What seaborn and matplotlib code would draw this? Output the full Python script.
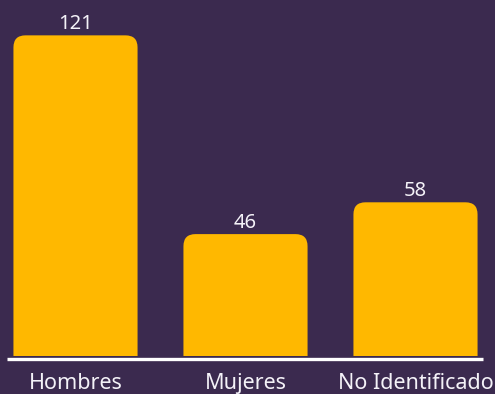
import matplotlib
matplotlib.use("Agg")
import matplotlib.pyplot as plt
import seaborn as sns
import pandas as pd
from matplotlib.patches import FancyBboxPatch

categories = ["Hombres", "Mujeres", "No Identificado"]
values = [121, 46, 58]

BG = "#3b2a4f"
BAR = "#ffb800"
TXT = "#f4f2f8"

sns.set_theme(style="white")
plt.rcParams["font.family"] = ["Noto Sans", "DejaVu Sans"]

W, H = 495, 394
fig = plt.figure(figsize=(W / 100, H / 100), dpi=100, facecolor=BG)

# axes: data y=0 sits at pixel row 356, 170 px between category centres
px_per_x = 170.0
px_per_y = 2.65
base_px = 356
ax = fig.add_axes([0, (H - base_px) / H, 1, base_px / H])
ax.set_facecolor(BG)
x0 = -75.5 / px_per_x
ax.set_xlim(x0, x0 + W / px_per_x)
ax.set_ylim(0, base_px / px_per_y)

df = pd.DataFrame({"cat": categories, "val": values})
sns.barplot(data=df, x="cat", y="val", color=BAR, width=0.73, ax=ax,
            saturation=1, order=categories)
ax.set_xlim(x0, x0 + W / px_per_x)

# swap the square bars for ones with rounded top corners
radius_px = 12
aspect = px_per_x / px_per_y
for p in list(ax.patches):
    x, w, h = p.get_x(), p.get_width(), p.get_height()
    p.remove()
    ext = radius_px / px_per_y * 2
    fb = FancyBboxPatch((x, -ext), w, h + ext,
                        boxstyle=f"round,pad=0,rounding_size={radius_px / px_per_x}",
                        mutation_aspect=aspect, facecolor=BAR, edgecolor="none",
                        clip_on=True)
    ax.add_patch(fb)
    ax.text(x + w / 2, h + 6 / px_per_y, f"{h:g}", ha="center", va="baseline",
            color=TXT, fontsize=14.5)

ax.axis("off")

# white baseline and category labels
fig.add_artist(plt.Line2D([7 / W, 483 / W], [(H - 358.5) / H] * 2,
                          color="white", lw=2.4, solid_capstyle="butt"))
for i, c in enumerate(categories):
    xc = (75.5 + i * px_per_x) / W
    fig.text(xc, (H - 389) / H, c, ha="center", va="baseline", color=TXT,
             fontsize=15.5)

fig.savefig("out.png", dpi=100, facecolor=BG)
